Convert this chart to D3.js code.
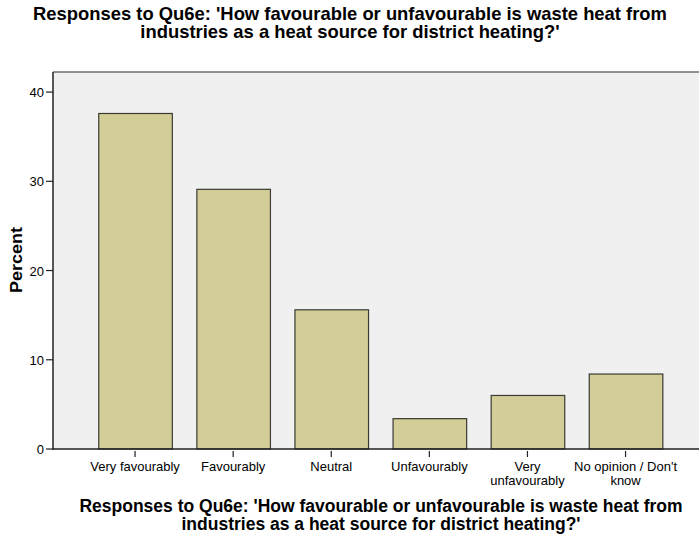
<!DOCTYPE html>
<html>
<head>
<meta charset="utf-8">
<script src="https://cdn.jsdelivr.net/npm/d3@7"></script>
<style>
	body { margin: 0; background: #fff; }
	text { font-family: "Liberation Sans", Arial, sans-serif; fill: #000; }
</style>
</head>
<body>
<svg id="chart" width="699" height="535"></svg>
<script>

const categories = [["Very favourably"], ["Favourably"], ["Neutral"], ["Unfavourably"], ["Very", "unfavourably"], ["No opinion / Don't", "know"]];
const percents = [37.6, 29.1, 15.6, 3.4, 6.0, 8.4];
const y_ticks = [0, 10, 20, 30, 40];
const title_lines = ["Responses to Qu6e: 'How favourable or unfavourable is waste heat from", "industries as a heat source for district heating?'"];
const y_title = "Percent";

const svg = d3.select("#chart");

const plot_left = 53, plot_right = 699, plot_top = 72, plot_bottom = 449;

const x = d3.scaleBand()
	.domain(d3.range(categories.length))
	.range([86, 674.6])
	.paddingInner(0.25)
	.paddingOuter(0.125);

const y = d3.scaleLinear()
	.domain([0, 42.25])
	.range([plot_bottom, plot_top]);

// plot background
svg.append("rect")
	.attr("x", plot_left)
	.attr("y", plot_top)
	.attr("width", plot_right - plot_left + 2)
	.attr("height", plot_bottom - plot_top)
	.style("fill", "#f0f0f0");

svg.append("line")
	.attr("x1", plot_left).attr("x2", plot_right)
	.attr("y1", plot_top).attr("y2", plot_top)
	.style("stroke", "#6e6e6e")
	.style("stroke-width", 1.5);

// bars
svg.append("g")
	.selectAll("rect")
	.data(percents)
	.enter()
	.append("rect")
		.attr("x", (d, i) => x(i) + 0.5)
		.attr("y", d => y(d))
		.attr("width", x.bandwidth())
		.attr("height", d => plot_bottom - y(d))
		.style("fill", "#d3ce97")
		.style("stroke", "#3a3a32")
		.style("stroke-width", 1.2);

// y axis
const y_axis = svg.append("g");
y_axis.append("line")
	.attr("x1", plot_left).attr("x2", plot_left)
	.attr("y1", plot_top).attr("y2", plot_bottom + 1)
	.style("stroke", "#222").style("stroke-width", 1.5);
y_axis.selectAll(".ytick")
	.data(y_ticks)
	.enter()
	.append("line")
		.attr("x1", plot_left - 7).attr("x2", plot_left)
		.attr("y1", d => y(d)).attr("y2", d => y(d))
		.style("stroke", "#222").style("stroke-width", 1.2);
y_axis.selectAll(".ylabel")
	.data(y_ticks)
	.enter()
	.append("text")
		.attr("x", plot_left - 9)
		.attr("y", d => y(d) + 5)
		.attr("text-anchor", "end")
		.style("font-size", "13px")
		.text(d => d);

svg.append("text")
	.attr("transform", "translate(22,260) rotate(-90)")
	.attr("text-anchor", "middle")
	.attr("textLength", 66)
	.attr("lengthAdjust", "spacingAndGlyphs")
	.style("font-size", "16px")
	.style("font-weight", "bold")
	.text(y_title);

// x axis
svg.append("line")
	.attr("x1", plot_left).attr("x2", plot_right)
	.attr("y1", plot_bottom).attr("y2", plot_bottom)
	.style("stroke", "#222").style("stroke-width", 1.5);

const x_ticks = svg.append("g").selectAll("g")
	.data(categories)
	.enter()
	.append("g")
		.attr("transform", (d, i) => "translate(" + (x(i) + x.bandwidth() / 2) + ",0)");
x_ticks.append("line")
	.attr("y1", plot_bottom + 2).attr("y2", plot_bottom + 8)
	.style("stroke", "#222").style("stroke-width", 1.2);
x_ticks.each(function(d) {
	d3.select(this).selectAll("text")
		.data(d)
		.enter()
		.append("text")
			.attr("y", (t, j) => 471 + j * 14)
			.attr("text-anchor", "middle")
			.style("font-size", "13px")
			.text(t => t);
});

// titles
svg.append("g").selectAll("text")
	.data(title_lines)
	.enter()
	.append("text")
		.attr("x", 350)
		.attr("y", (d, i) => 20 + i * 18)
		.attr("text-anchor", "middle")
		.style("font-size", "18.4px")
		.style("font-weight", "bold")
		.text(d => d);

svg.append("g").selectAll("text")
	.data(title_lines)
	.enter()
	.append("text")
		.attr("x", 381)
		.attr("y", (d, i) => 512 + i * 18)
		.attr("text-anchor", "middle")
		.style("font-size", "17.5px")
		.style("font-weight", "bold")
		.text(d => d);

</script>
</body>
</html>
